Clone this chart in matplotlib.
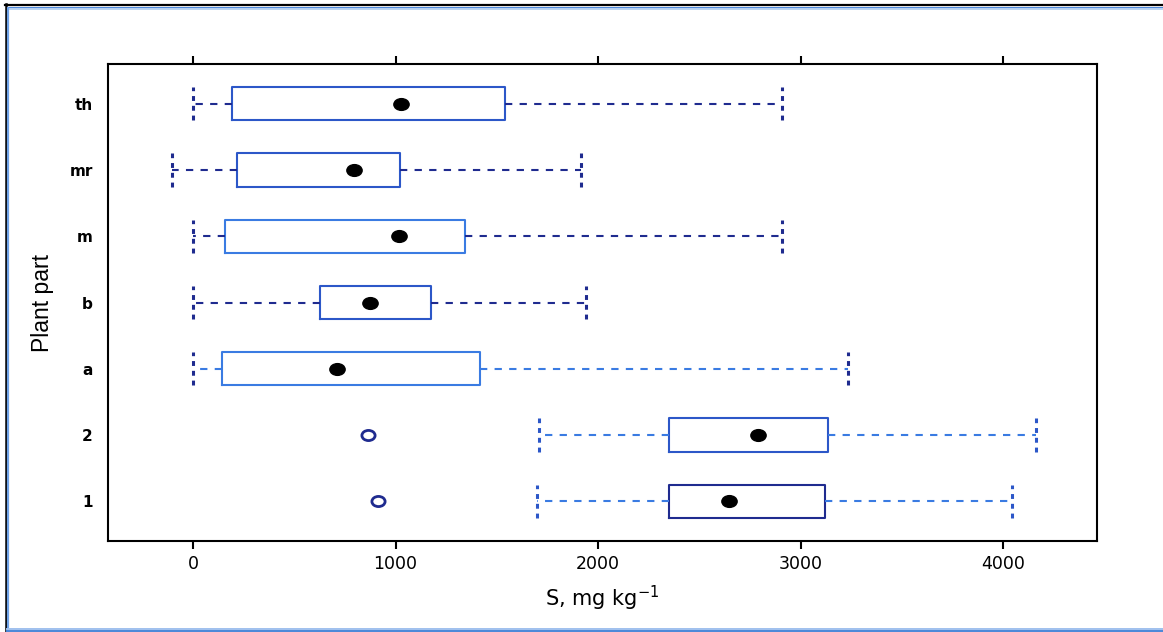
import matplotlib
matplotlib.use("Agg")
import matplotlib.pyplot as plt
from matplotlib.lines import Line2D
from matplotlib.path import Path
from matplotlib.transforms import Affine2D

plt.rcParams['font.family'] = ['Liberation Sans', 'DejaVu Sans']

# boxplot summaries (S, mg kg-1), bottom row first
labels = ['1', '2', 'a', 'b', 'm', 'mr', 'th']
q1 = [2351, 2351, 143, 627, 158, 217, 193]
med = [2647, 2790, 711, 874, 1017, 795, 1027]
q3 = [3121, 3136, 1417, 1175, 1343, 1022, 1541]
whislo = [1699, 1709, 0, 0, 0, -104, 0]
whishi = [4044, 4163, 3235, 1941, 2909, 1916, 2909]
fliers = [[914], [864], [], [], [], [], []]

navy = '#1f2b8f'
light = '#3a7be2'
mid = '#2c57c8'
box_cols = [navy, mid, light, mid, light, mid, mid]
whisk_cols = [light, light, light, navy, navy, navy, navy]

# slightly flattened dot, like the stretched original
ellipse = Path.unit_circle().transformed(Affine2D().scale(1.3, 1.0))

stats = []
for i in range(len(labels)):
    stats.append(dict(label=labels[i], q1=q1[i], med=med[i], q3=q3[i],
                      whislo=whislo[i], whishi=whishi[i], fliers=fliers[i]))

fig = plt.figure(figsize=(11.63, 6.32), dpi=100)
ax = fig.add_axes([0.0929, 0.144, 0.8504, 0.7547])

pos = list(range(1, len(labels) + 1))
bp = ax.bxp(stats, positions=pos, widths=0.5, capwidths=0.5,
            orientation='horizontal', showfliers=True, patch_artist=False,
            boxprops=dict(linewidth=1.5),
            whiskerprops=dict(linewidth=1.5, linestyle=(0, (3.5, 3.5))),
            capprops=dict(linewidth=2.2, linestyle=(0, (1.6, 1.6))),
            medianprops=dict(linewidth=0),
            flierprops=dict(marker=ellipse, markersize=9.5, markerfacecolor='white',
                            markeredgewidth=2))

for i in range(len(labels)):
    bp['boxes'][i].set_color(box_cols[i])
    bp['whiskers'][2 * i].set_color(whisk_cols[i])
    bp['whiskers'][2 * i + 1].set_color(whisk_cols[i])
    cap_c = navy if i >= 2 else mid
    bp['caps'][2 * i].set_color(cap_c)
    bp['caps'][2 * i + 1].set_color(cap_c)
    bp['fliers'][i].set_markeredgecolor(navy)

# medians as black dots
ax.plot(med, pos, linestyle='none', marker=ellipse, markersize=11,
        color='black', zorder=5)

ax.set_xlim(-420, 4464)
ax.set_ylim(0.4, 7.6)
ax.set_xticks([0, 1000, 2000, 3000, 4000])
ax.set_yticks(pos)
ax.set_yticklabels(labels, fontfamily='DejaVu Sans', fontweight='bold')
for t in ax.get_xticklabels():
    t.set_fontfamily('DejaVu Sans')

ax.tick_params(axis='x', which='both', top=True, bottom=True, direction='out',
               length=6, width=1.5, labelsize=12.5, pad=4, labeltop=False)
ax.tick_params(axis='y', length=0, labelsize=11, pad=11)
for s in ax.spines.values():
    s.set_linewidth(1.5)

ax.set_xlabel('S, mg kg$^{-1}$', fontsize=15, fontfamily='DejaVu Sans',
              labelpad=8)
ax.set_ylabel('Plant part', fontsize=16.5, labelpad=11)

# window frame around the picture (top, left, bottom only)
tf = fig.transFigure
fig.add_artist(Line2D([0.004, 1.0], [0.992, 0.992], color='black', lw=1.6, transform=tf))
fig.add_artist(Line2D([0.006, 1.0], [0.988, 0.988], color='#4a86d8', lw=1.4, transform=tf))
fig.add_artist(Line2D([0.007, 1.0], [0.9855, 0.9855], color='#b9d3f2', lw=1.4, transform=tf))
fig.add_artist(Line2D([0.005, 0.005], [0.0, 0.993], color='black', lw=1.8, transform=tf))
fig.add_artist(Line2D([0.0072, 0.0072], [0.0, 0.988], color='#6fa2e6', lw=1.6, transform=tf))
fig.add_artist(Line2D([0.006, 1.0], [0.0045, 0.0045], color='#9fc0ee', lw=1.4, transform=tf))
fig.add_artist(Line2D([0.006, 1.0], [0.0015, 0.0015], color='#4a86d8', lw=1.4, transform=tf))

fig.savefig('out.png', dpi=100)
